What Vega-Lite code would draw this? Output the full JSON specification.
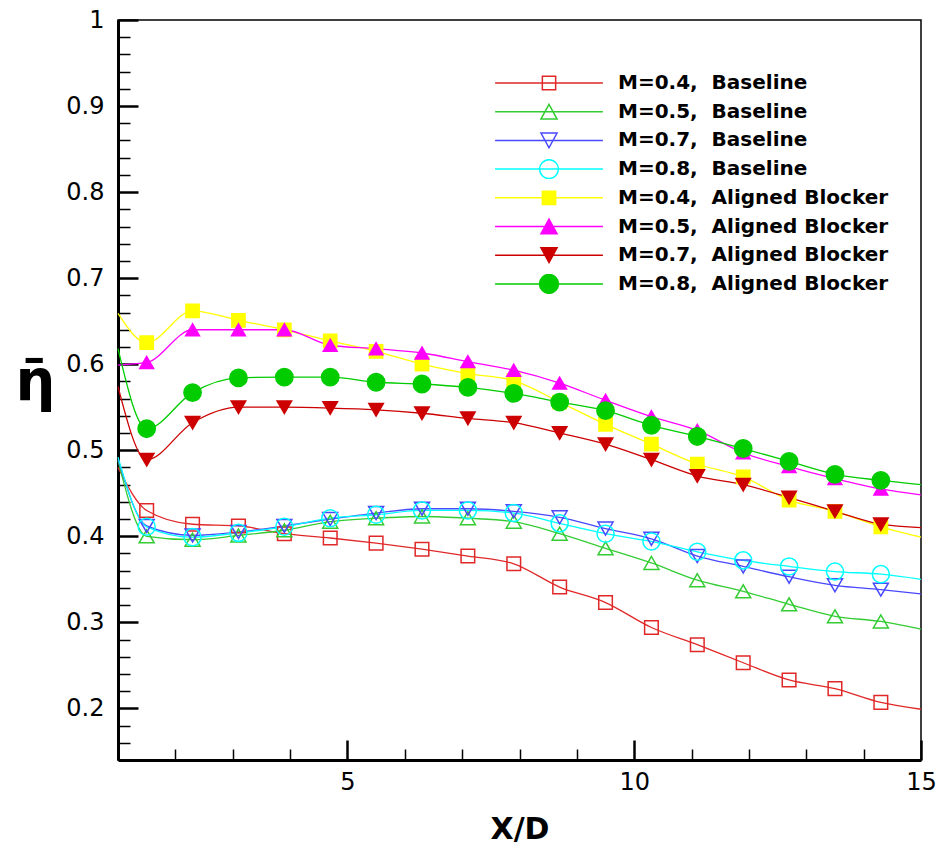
{
  "$schema": "https://vega.github.io/schema/vega-lite/v6.json",
  "width": 803,
  "height": 740,
  "autosize": {"type": "none"},
  "padding": {"left": 118, "top": 20, "right": 18, "bottom": 85},
  "background": "white",
  "config": {
    "view": {"stroke": "black", "strokeWidth": 1.5},
    "axis": {
      "grid": false,
      "domainColor": "black",
      "domainWidth": 3,
      "tickColor": "black",
      "labelColor": "black",
      "titleColor": "black",
      "labelFont": "DejaVu Sans",
      "titleFont": "DejaVu Sans",
      "labelFontSize": 24,
      "labelFontWeight": "normal"
    },
    "legend": {
      "padding": 0,
      "labelFont": "DejaVu Sans",
      "labelFontSize": 20,
      "labelFontWeight": "bold",
      "labelColor": "black",
      "labelLimit": 500
    }
  },
  "data": {
    "values": [
      {"s": "M=0.4,\u00a0 Baseline", "x": 1, "y": 0.48},
      {"s": "M=0.4,\u00a0 Baseline", "x": 1.5, "y": 0.43},
      {"s": "M=0.4,\u00a0 Baseline", "x": 2.3, "y": 0.414},
      {"s": "M=0.4,\u00a0 Baseline", "x": 3.1, "y": 0.412},
      {"s": "M=0.4,\u00a0 Baseline", "x": 3.9, "y": 0.403},
      {"s": "M=0.4,\u00a0 Baseline", "x": 4.7, "y": 0.398},
      {"s": "M=0.4,\u00a0 Baseline", "x": 5.5, "y": 0.392},
      {"s": "M=0.4,\u00a0 Baseline", "x": 6.3, "y": 0.385},
      {"s": "M=0.4,\u00a0 Baseline", "x": 7.1, "y": 0.377},
      {"s": "M=0.4,\u00a0 Baseline", "x": 7.9, "y": 0.368},
      {"s": "M=0.4,\u00a0 Baseline", "x": 8.7, "y": 0.341},
      {"s": "M=0.4,\u00a0 Baseline", "x": 9.5, "y": 0.323},
      {"s": "M=0.4,\u00a0 Baseline", "x": 10.3, "y": 0.294},
      {"s": "M=0.4,\u00a0 Baseline", "x": 11.1, "y": 0.274},
      {"s": "M=0.4,\u00a0 Baseline", "x": 11.9, "y": 0.253},
      {"s": "M=0.4,\u00a0 Baseline", "x": 12.7, "y": 0.233},
      {"s": "M=0.4,\u00a0 Baseline", "x": 13.5, "y": 0.223},
      {"s": "M=0.4,\u00a0 Baseline", "x": 14.3, "y": 0.207},
      {"s": "M=0.4,\u00a0 Baseline", "x": 15, "y": 0.199},

      {"s": "M=0.5,\u00a0 Baseline", "x": 1, "y": 0.488},
      {"s": "M=0.5,\u00a0 Baseline", "x": 1.5, "y": 0.4},
      {"s": "M=0.5,\u00a0 Baseline", "x": 2.3, "y": 0.396},
      {"s": "M=0.5,\u00a0 Baseline", "x": 3.1, "y": 0.401},
      {"s": "M=0.5,\u00a0 Baseline", "x": 3.9, "y": 0.407},
      {"s": "M=0.5,\u00a0 Baseline", "x": 4.7, "y": 0.417},
      {"s": "M=0.5,\u00a0 Baseline", "x": 5.5, "y": 0.421},
      {"s": "M=0.5,\u00a0 Baseline", "x": 6.3, "y": 0.423},
      {"s": "M=0.5,\u00a0 Baseline", "x": 7.1, "y": 0.421},
      {"s": "M=0.5,\u00a0 Baseline", "x": 7.9, "y": 0.417},
      {"s": "M=0.5,\u00a0 Baseline", "x": 8.7, "y": 0.403},
      {"s": "M=0.5,\u00a0 Baseline", "x": 9.5, "y": 0.386},
      {"s": "M=0.5,\u00a0 Baseline", "x": 10.3, "y": 0.369},
      {"s": "M=0.5,\u00a0 Baseline", "x": 11.1, "y": 0.349},
      {"s": "M=0.5,\u00a0 Baseline", "x": 11.9, "y": 0.336},
      {"s": "M=0.5,\u00a0 Baseline", "x": 12.7, "y": 0.321},
      {"s": "M=0.5,\u00a0 Baseline", "x": 13.5, "y": 0.307},
      {"s": "M=0.5,\u00a0 Baseline", "x": 14.3, "y": 0.301},
      {"s": "M=0.5,\u00a0 Baseline", "x": 15, "y": 0.292},

      {"s": "M=0.7,\u00a0 Baseline", "x": 1, "y": 0.49},
      {"s": "M=0.7,\u00a0 Baseline", "x": 1.5, "y": 0.412},
      {"s": "M=0.7,\u00a0 Baseline", "x": 2.3, "y": 0.401},
      {"s": "M=0.7,\u00a0 Baseline", "x": 3.1, "y": 0.405},
      {"s": "M=0.7,\u00a0 Baseline", "x": 3.9, "y": 0.412},
      {"s": "M=0.7,\u00a0 Baseline", "x": 4.7, "y": 0.42},
      {"s": "M=0.7,\u00a0 Baseline", "x": 5.5, "y": 0.427},
      {"s": "M=0.7,\u00a0 Baseline", "x": 6.3, "y": 0.432},
      {"s": "M=0.7,\u00a0 Baseline", "x": 7.1, "y": 0.432},
      {"s": "M=0.7,\u00a0 Baseline", "x": 7.9, "y": 0.429},
      {"s": "M=0.7,\u00a0 Baseline", "x": 8.7, "y": 0.422},
      {"s": "M=0.7,\u00a0 Baseline", "x": 9.5, "y": 0.409},
      {"s": "M=0.7,\u00a0 Baseline", "x": 10.3, "y": 0.397},
      {"s": "M=0.7,\u00a0 Baseline", "x": 11.1, "y": 0.377},
      {"s": "M=0.7,\u00a0 Baseline", "x": 11.9, "y": 0.365},
      {"s": "M=0.7,\u00a0 Baseline", "x": 12.7, "y": 0.353},
      {"s": "M=0.7,\u00a0 Baseline", "x": 13.5, "y": 0.343},
      {"s": "M=0.7,\u00a0 Baseline", "x": 14.3, "y": 0.338},
      {"s": "M=0.7,\u00a0 Baseline", "x": 15, "y": 0.333},

      {"s": "M=0.8,\u00a0 Baseline", "x": 1, "y": 0.492},
      {"s": "M=0.8,\u00a0 Baseline", "x": 1.5, "y": 0.411},
      {"s": "M=0.8,\u00a0 Baseline", "x": 2.3, "y": 0.399},
      {"s": "M=0.8,\u00a0 Baseline", "x": 3.1, "y": 0.404},
      {"s": "M=0.8,\u00a0 Baseline", "x": 3.9, "y": 0.411},
      {"s": "M=0.8,\u00a0 Baseline", "x": 4.7, "y": 0.421},
      {"s": "M=0.8,\u00a0 Baseline", "x": 5.5, "y": 0.425},
      {"s": "M=0.8,\u00a0 Baseline", "x": 6.3, "y": 0.43},
      {"s": "M=0.8,\u00a0 Baseline", "x": 7.1, "y": 0.43},
      {"s": "M=0.8,\u00a0 Baseline", "x": 7.9, "y": 0.427},
      {"s": "M=0.8,\u00a0 Baseline", "x": 8.7, "y": 0.415},
      {"s": "M=0.8,\u00a0 Baseline", "x": 9.5, "y": 0.403},
      {"s": "M=0.8,\u00a0 Baseline", "x": 10.3, "y": 0.394},
      {"s": "M=0.8,\u00a0 Baseline", "x": 11.1, "y": 0.382},
      {"s": "M=0.8,\u00a0 Baseline", "x": 11.9, "y": 0.372},
      {"s": "M=0.8,\u00a0 Baseline", "x": 12.7, "y": 0.365},
      {"s": "M=0.8,\u00a0 Baseline", "x": 13.5, "y": 0.359},
      {"s": "M=0.8,\u00a0 Baseline", "x": 14.3, "y": 0.356},
      {"s": "M=0.8,\u00a0 Baseline", "x": 15, "y": 0.35},

      {"s": "M=0.4,\u00a0 Aligned Blocker", "x": 1, "y": 0.659},
      {"s": "M=0.4,\u00a0 Aligned Blocker", "x": 1.5, "y": 0.625},
      {"s": "M=0.4,\u00a0 Aligned Blocker", "x": 2.3, "y": 0.662},
      {"s": "M=0.4,\u00a0 Aligned Blocker", "x": 3.1, "y": 0.651},
      {"s": "M=0.4,\u00a0 Aligned Blocker", "x": 3.9, "y": 0.64},
      {"s": "M=0.4,\u00a0 Aligned Blocker", "x": 4.7, "y": 0.627},
      {"s": "M=0.4,\u00a0 Aligned Blocker", "x": 5.5, "y": 0.615},
      {"s": "M=0.4,\u00a0 Aligned Blocker", "x": 6.3, "y": 0.6},
      {"s": "M=0.4,\u00a0 Aligned Blocker", "x": 7.1, "y": 0.589},
      {"s": "M=0.4,\u00a0 Aligned Blocker", "x": 7.9, "y": 0.581},
      {"s": "M=0.4,\u00a0 Aligned Blocker", "x": 8.7, "y": 0.556},
      {"s": "M=0.4,\u00a0 Aligned Blocker", "x": 9.5, "y": 0.53},
      {"s": "M=0.4,\u00a0 Aligned Blocker", "x": 10.3, "y": 0.507},
      {"s": "M=0.4,\u00a0 Aligned Blocker", "x": 11.1, "y": 0.484},
      {"s": "M=0.4,\u00a0 Aligned Blocker", "x": 11.9, "y": 0.469},
      {"s": "M=0.4,\u00a0 Aligned Blocker", "x": 12.7, "y": 0.442},
      {"s": "M=0.4,\u00a0 Aligned Blocker", "x": 13.5, "y": 0.429},
      {"s": "M=0.4,\u00a0 Aligned Blocker", "x": 14.3, "y": 0.411},
      {"s": "M=0.4,\u00a0 Aligned Blocker", "x": 15, "y": 0.399},

      {"s": "M=0.5,\u00a0 Aligned Blocker", "x": 1, "y": 0.599},
      {"s": "M=0.5,\u00a0 Aligned Blocker", "x": 1.5, "y": 0.602},
      {"s": "M=0.5,\u00a0 Aligned Blocker", "x": 2.3, "y": 0.64},
      {"s": "M=0.5,\u00a0 Aligned Blocker", "x": 3.1, "y": 0.64},
      {"s": "M=0.5,\u00a0 Aligned Blocker", "x": 3.9, "y": 0.64},
      {"s": "M=0.5,\u00a0 Aligned Blocker", "x": 4.7, "y": 0.622},
      {"s": "M=0.5,\u00a0 Aligned Blocker", "x": 5.5, "y": 0.618},
      {"s": "M=0.5,\u00a0 Aligned Blocker", "x": 6.3, "y": 0.613},
      {"s": "M=0.5,\u00a0 Aligned Blocker", "x": 7.1, "y": 0.603},
      {"s": "M=0.5,\u00a0 Aligned Blocker", "x": 7.9, "y": 0.593},
      {"s": "M=0.5,\u00a0 Aligned Blocker", "x": 8.7, "y": 0.578},
      {"s": "M=0.5,\u00a0 Aligned Blocker", "x": 9.5, "y": 0.558},
      {"s": "M=0.5,\u00a0 Aligned Blocker", "x": 10.3, "y": 0.539},
      {"s": "M=0.5,\u00a0 Aligned Blocker", "x": 11.1, "y": 0.523},
      {"s": "M=0.5,\u00a0 Aligned Blocker", "x": 11.9, "y": 0.497},
      {"s": "M=0.5,\u00a0 Aligned Blocker", "x": 12.7, "y": 0.481},
      {"s": "M=0.5,\u00a0 Aligned Blocker", "x": 13.5, "y": 0.467},
      {"s": "M=0.5,\u00a0 Aligned Blocker", "x": 14.3, "y": 0.455},
      {"s": "M=0.5,\u00a0 Aligned Blocker", "x": 15, "y": 0.448},

      {"s": "M=0.7,\u00a0 Aligned Blocker", "x": 1, "y": 0.574},
      {"s": "M=0.7,\u00a0 Aligned Blocker", "x": 1.5, "y": 0.489},
      {"s": "M=0.7,\u00a0 Aligned Blocker", "x": 2.3, "y": 0.532},
      {"s": "M=0.7,\u00a0 Aligned Blocker", "x": 3.1, "y": 0.55},
      {"s": "M=0.7,\u00a0 Aligned Blocker", "x": 3.9, "y": 0.55},
      {"s": "M=0.7,\u00a0 Aligned Blocker", "x": 4.7, "y": 0.549},
      {"s": "M=0.7,\u00a0 Aligned Blocker", "x": 5.5, "y": 0.547},
      {"s": "M=0.7,\u00a0 Aligned Blocker", "x": 6.3, "y": 0.543},
      {"s": "M=0.7,\u00a0 Aligned Blocker", "x": 7.1, "y": 0.537},
      {"s": "M=0.7,\u00a0 Aligned Blocker", "x": 7.9, "y": 0.532},
      {"s": "M=0.7,\u00a0 Aligned Blocker", "x": 8.7, "y": 0.52},
      {"s": "M=0.7,\u00a0 Aligned Blocker", "x": 9.5, "y": 0.507},
      {"s": "M=0.7,\u00a0 Aligned Blocker", "x": 10.3, "y": 0.489},
      {"s": "M=0.7,\u00a0 Aligned Blocker", "x": 11.1, "y": 0.47},
      {"s": "M=0.7,\u00a0 Aligned Blocker", "x": 11.9, "y": 0.46},
      {"s": "M=0.7,\u00a0 Aligned Blocker", "x": 12.7, "y": 0.445},
      {"s": "M=0.7,\u00a0 Aligned Blocker", "x": 13.5, "y": 0.429},
      {"s": "M=0.7,\u00a0 Aligned Blocker", "x": 14.3, "y": 0.414},
      {"s": "M=0.7,\u00a0 Aligned Blocker", "x": 15, "y": 0.41},

      {"s": "M=0.8,\u00a0 Aligned Blocker", "x": 1, "y": 0.618},
      {"s": "M=0.8,\u00a0 Aligned Blocker", "x": 1.5, "y": 0.525},
      {"s": "M=0.8,\u00a0 Aligned Blocker", "x": 2.3, "y": 0.567},
      {"s": "M=0.8,\u00a0 Aligned Blocker", "x": 3.1, "y": 0.584},
      {"s": "M=0.8,\u00a0 Aligned Blocker", "x": 3.9, "y": 0.585},
      {"s": "M=0.8,\u00a0 Aligned Blocker", "x": 4.7, "y": 0.585},
      {"s": "M=0.8,\u00a0 Aligned Blocker", "x": 5.5, "y": 0.579},
      {"s": "M=0.8,\u00a0 Aligned Blocker", "x": 6.3, "y": 0.577},
      {"s": "M=0.8,\u00a0 Aligned Blocker", "x": 7.1, "y": 0.573},
      {"s": "M=0.8,\u00a0 Aligned Blocker", "x": 7.9, "y": 0.566},
      {"s": "M=0.8,\u00a0 Aligned Blocker", "x": 8.7, "y": 0.556},
      {"s": "M=0.8,\u00a0 Aligned Blocker", "x": 9.5, "y": 0.546},
      {"s": "M=0.8,\u00a0 Aligned Blocker", "x": 10.3, "y": 0.529},
      {"s": "M=0.8,\u00a0 Aligned Blocker", "x": 11.1, "y": 0.516},
      {"s": "M=0.8,\u00a0 Aligned Blocker", "x": 11.9, "y": 0.502},
      {"s": "M=0.8,\u00a0 Aligned Blocker", "x": 12.7, "y": 0.487},
      {"s": "M=0.8,\u00a0 Aligned Blocker", "x": 13.5, "y": 0.472},
      {"s": "M=0.8,\u00a0 Aligned Blocker", "x": 14.3, "y": 0.465},
      {"s": "M=0.8,\u00a0 Aligned Blocker", "x": 15, "y": 0.46}
    ]
  },
  "encoding": {
    "x": {
      "field": "x",
      "type": "quantitative",
      "scale": {"domain": [1, 15], "nice": false, "zero": false},
      "axis": {
        "values": [2, 3, 4, 5, 6, 7, 8, 9, 10, 11, 12, 13, 14, 15],
        "labelExpr": "datum.value % 5 === 0 ? datum.label : ''",
        "tickSize": {"condition": {"test": "datum.value % 5 === 0", "value": -20}, "value": -11},
        "tickWidth": {"condition": {"test": "datum.value % 5 === 0", "value": 2.5}, "value": 1.5},
        "labelPadding": 30,
        "labelFlush": false,
        "title": "X/D",
        "titleFontSize": 30,
        "titleFontWeight": "bold",
        "titleY": 69,
        "titleBaseline": "middle"
      }
    },
    "y": {
      "field": "y",
      "type": "quantitative",
      "scale": {"domain": [0.14, 1], "nice": false, "zero": false},
      "axis": {
        "values": [0.16, 0.18, 0.2, 0.22, 0.24, 0.26, 0.28, 0.3, 0.32, 0.34, 0.36, 0.38, 0.4, 0.42, 0.44, 0.46, 0.48, 0.5, 0.52, 0.54, 0.56, 0.58, 0.6, 0.62, 0.64, 0.66, 0.68, 0.7, 0.72, 0.74, 0.76, 0.78, 0.8, 0.82, 0.84, 0.86, 0.88, 0.9, 0.92, 0.94, 0.96, 0.98, 1],
        "format": "~g",
        "labelExpr": "abs(datum.value * 10 - round(datum.value * 10)) < 0.001 ? datum.label : ''",
        "tickSize": {"condition": {"test": "abs(datum.value * 10 - round(datum.value * 10)) < 0.001", "value": -20}, "value": -12},
        "tickWidth": {"condition": {"test": "abs(datum.value * 10 - round(datum.value * 10)) < 0.001", "value": 2.5}, "value": 1.5},
        "labelPadding": 34,
        "labelFlush": false,
        "title": "η̄",
        "titleAngle": 0,
        "titleFontSize": 56,
        "titleFontWeight": "bold",
        "titleX": -83,
        "titleY": 362,
        "titleAlign": "center",
        "titleBaseline": "middle"
      }
    }
  },
  "layer": [
    {
      "mark": {"type": "line", "interpolate": "monotone", "strokeWidth": 1.3},
      "encoding": {
        "stroke": {
          "field": "s",
          "type": "nominal",
          "sort": null,
          "scale": {
            "domain": ["M=0.4,\u00a0 Baseline", "M=0.5,\u00a0 Baseline", "M=0.7,\u00a0 Baseline", "M=0.8,\u00a0 Baseline", "M=0.4,\u00a0 Aligned Blocker", "M=0.5,\u00a0 Aligned Blocker", "M=0.7,\u00a0 Aligned Blocker", "M=0.8,\u00a0 Aligned Blocker"],
            "range": ["#e02828", "#33cc33", "#4848ff", "#00ffff", "#ffff00", "#ff00ff", "#cc0000", "#00cc00"]
          }
        }
      }
    },
    {
      "transform": [{"filter": "datum.x > 1 && datum.x < 15"}],
      "mark": {
        "type": "point",
        "opacity": 1,
        "strokeWidth": 1.5,
        "shape": {"expr": "indexof(datum.s,'0.4')>=0 ? 'square' : indexof(datum.s,'0.5')>=0 ? 'triangle-up' : indexof(datum.s,'0.7')>=0 ? 'triangle-down' : 'circle'"},
        "size": {"expr": "indexof(datum.s,'0.8')>=0 ? (indexof(datum.s,'Baseline')>=0 ? 290 : 300) : indexof(datum.s,'0.4')>=0 ? (indexof(datum.s,'Baseline')>=0 ? 185 : 175) : indexof(datum.s,'0.5')>=0 ? (indexof(datum.s,'Baseline')>=0 ? 225 : 190) : (indexof(datum.s,'Baseline')>=0 ? 225 : 210)"}
      },
      "encoding": {
        "stroke": {
          "field": "s",
          "type": "nominal",
          "sort": null,
          "legend": {
            "title": null,
            "orient": "none",
            "legendX": 375,
            "legendY": 53,
            "symbolType": {"expr": "indexof(datum.value,'0.4')>=0 ? 'M-7.7,0H7.7M-0.95,-0.95H0.95V0.95H-0.95Z' : indexof(datum.value,'0.5')>=0 ? 'M-7.7,0H7.7M0,-1.05L1.15,1.05L-1.15,1.05Z' : indexof(datum.value,'0.7')>=0 ? 'M-7.7,0H7.7M0,1.05L1.15,-1.05L-1.15,-1.05Z' : 'M-7.7,0H7.7M1.35,0A1.35,1.35,0,1,1,-1.35,0A1.35,1.35,0,1,1,1.35,0Z'"},
            "symbolSize": 196,
            "symbolStrokeWidth": 1.5,
            "symbolOpacity": 1,
            "symbolOffset": 46,
            "labelOffset": 59,
            "rowPadding": 8.7,
            "clipHeight": 20
          }
        },
        "fill": {
          "field": "s",
          "type": "nominal",
          "sort": null,
          "scale": {
            "domain": ["M=0.4,\u00a0 Baseline", "M=0.5,\u00a0 Baseline", "M=0.7,\u00a0 Baseline", "M=0.8,\u00a0 Baseline", "M=0.4,\u00a0 Aligned Blocker", "M=0.5,\u00a0 Aligned Blocker", "M=0.7,\u00a0 Aligned Blocker", "M=0.8,\u00a0 Aligned Blocker"],
            "range": ["transparent", "transparent", "transparent", "transparent", "#ffff00", "#ff00ff", "#cc0000", "#00cc00"]
          }
        }
      }
    }
  ]
}
